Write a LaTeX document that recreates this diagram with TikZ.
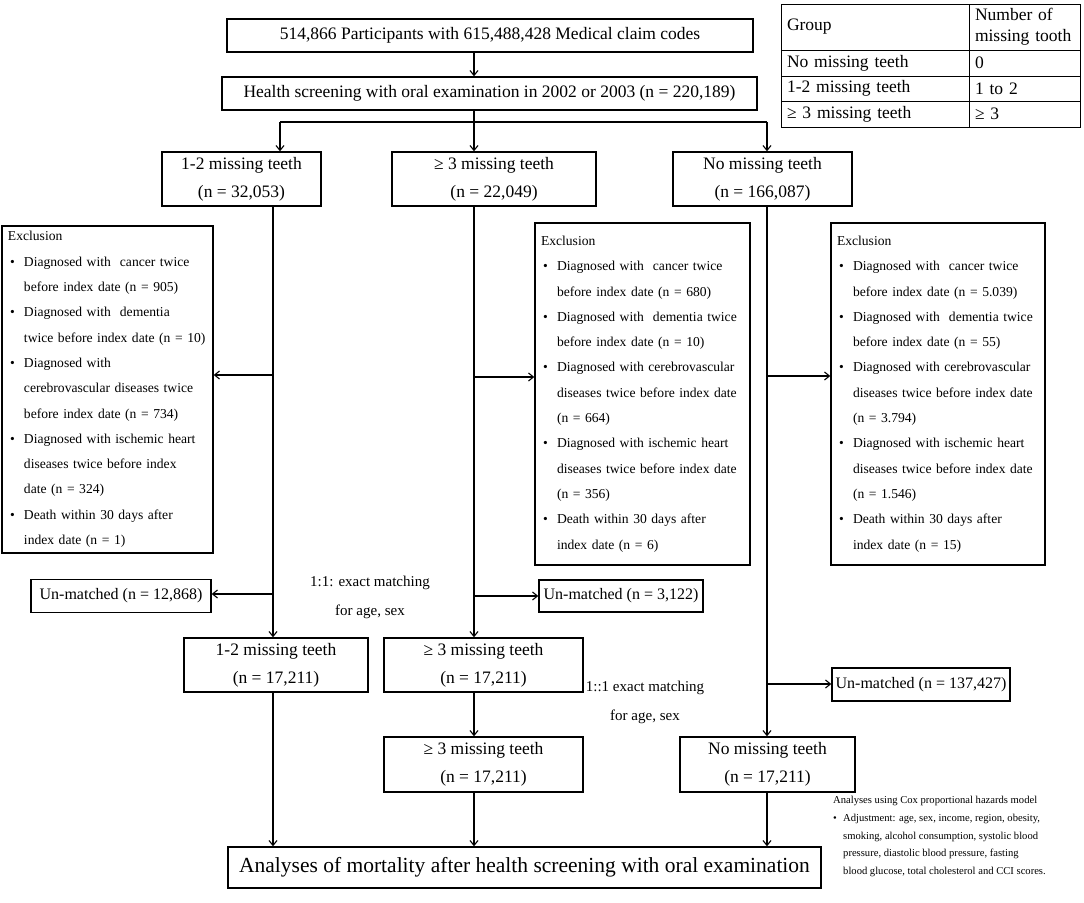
\documentclass[tikz,border=0pt]{standalone}
\usepackage{fontspec}
\setmainfont{Liberation Serif}
\usetikzlibrary{arrows.meta}
\newcommand\fsz[2]{\fontsize{#1}{#2}\selectfont}
\newcommand\bl[1]{\mbox{\makebox[16pt][l]{\hspace{2pt}\textbullet}#1}}
\newcommand\il[1]{\mbox{\hspace*{16pt}#1}}
\newcommand\nbul{\makebox[10pt][l]{\textbullet}}
\newcommand\nind{\hspace*{10pt}}
\begin{document}
\begin{tikzpicture}[x=1pt,y=-1pt,
  box/.style={draw, line width=1.3pt, inner sep=0pt, align=center, font=\fsz{17.5}{28}},
  exbox/.style={draw, line width=1.3pt, inner xsep=6pt, inner ysep=0pt, align=left, font=\fsz{13.6}{25.3}},
  cell/.style={draw, line width=0.9pt, inner xsep=6pt, inner ysep=0pt, align=left, font=\fsz{17.5}{21}},
  lbl/.style={inner sep=0pt, align=center, font=\fsz{15}{29}},
  conn/.style={line width=1.1pt},
  arr/.style={line width=1.1pt, -{Straight Barb[length=5pt,width=8pt]}}]
\useasboundingbox (0,0) rectangle (1084,902);
\fill[white] (0,0) rectangle (1084,902);

% top boxes
\node[box, minimum width=526pt, minimum height=33pt] (top) at (490,35.5) {514,866 Participants with 615,488,428 Medical claim codes};
\node[box, minimum width=535pt, minimum height=33pt] (scr) at (489.5,93.5) {Health screening with oral examination in 2002 or 2003 (n = 220,189)};

% table
\node[cell, minimum width=188pt, text width=176pt, minimum height=46pt] (t11) at (875,27) {Group\\[\baselineskip]};
\node[cell, minimum width=111pt, text width=99pt, minimum height=46pt] (t12) at (1024.5,27) {Number of\\missing tooth};
\node[cell, minimum width=188pt, text width=176pt, minimum height=26pt] (t21) at (875,63) {No missing teeth};
\node[cell, minimum width=111pt, text width=99pt, minimum height=26pt] (t22) at (1024.5,63) {0};
\node[cell, minimum width=188pt, text width=176pt, minimum height=25pt] (t31) at (875,88.5) {1-2 missing teeth};
\node[cell, minimum width=111pt, text width=99pt, minimum height=25pt] (t32) at (1024.5,88.5) {1 to 2};
\node[cell, minimum width=188pt, text width=176pt, minimum height=26pt] (t41) at (875,114) {≥ 3 missing teeth};
\node[cell, minimum width=111pt, text width=99pt, minimum height=26pt] (t42) at (1024.5,114) {≥ 3};

% group boxes
\node[box, minimum width=159pt, minimum height=54pt] (g1) at (241.5,179) {1-2 missing teeth\\(n = 32,053)};
\node[box, minimum width=204pt, minimum height=54pt] (g2) at (494,179) {≥ 3 missing teeth\\(n = 22,049)};
\node[box, minimum width=179pt, minimum height=54pt] (g3) at (762.5,179) {No missing teeth\\(n = 166,087)};

% exclusion boxes
\node[exbox, minimum width=211pt, text width=199pt, minimum height=327pt] (ex1) at (107.5,389.5) {Exclusion\\
\bl{Diagnosed with\ \ cancer twice}\\
\il{before index date (n = 905)}\\
\bl{Diagnosed with\ \ dementia}\\
\il{twice before index date (n = 10)}\\
\bl{Diagnosed with}\\
\il{cerebrovascular diseases twice}\\
\il{before index date (n = 734)}\\
\bl{Diagnosed with ischemic heart}\\
\il{diseases twice before index}\\
\il{date (n = 324)}\\
\bl{Death within 30 days after}\\
\il{index date (n = 1)}};

\node[exbox, minimum width=215pt, text width=203pt, minimum height=342pt] (ex2) at (642.5,394) {Exclusion\\
\bl{Diagnosed with\ \ cancer twice}\\
\il{before index date (n = 680)}\\
\bl{Diagnosed with\ \ dementia twice}\\
\il{before index date (n = 10)}\\
\bl{Diagnosed with cerebrovascular}\\
\il{diseases twice before index date}\\
\il{(n = 664)}\\
\bl{Diagnosed with ischemic heart}\\
\il{diseases twice before index date}\\
\il{(n = 356)}\\
\bl{Death within 30 days after}\\
\il{index date (n = 6)}};

\node[exbox, minimum width=214pt, text width=202pt, minimum height=342pt] (ex3) at (938,394) {Exclusion\\
\bl{Diagnosed with\ \ cancer twice}\\
\il{before index date (n = 5.039)}\\
\bl{Diagnosed with\ \ dementia twice}\\
\il{before index date (n = 55)}\\
\bl{Diagnosed with cerebrovascular}\\
\il{diseases twice before index date}\\
\il{(n = 3.794)}\\
\bl{Diagnosed with ischemic heart}\\
\il{diseases twice before index date}\\
\il{(n = 1.546)}\\
\bl{Death within 30 days after}\\
\il{index date (n = 15)}};

% unmatched
\node[box, font=\fsz{16}{20}, minimum width=180pt, minimum height=33pt] (un1) at (121,596) {Un-matched (n = 12,868)};
\node[box, font=\fsz{16}{20}, minimum width=164pt, minimum height=32pt] (un2) at (621,596) {Un-matched (n = 3,122)};
\node[box, font=\fsz{16}{20}, minimum width=178pt, minimum height=33pt] (un3) at (921,684.5) {Un-matched (n = 137,427)};

% matching labels
\node[lbl] (m1) at (370,597) {1:1: exact matching\\for age, sex};
\node[lbl] (m2) at (645,702) {1::1 exact matching\\for age, sex};

% second / third rows
\node[box, minimum width=184pt, minimum height=54pt] (g1b) at (276,665) {1-2 missing teeth\\(n = 17,211)};
\node[box, minimum width=199pt, minimum height=54pt] (g2b) at (483.5,665) {≥ 3 missing teeth\\(n = 17,211)};
\node[box, minimum width=199pt, minimum height=55pt] (g2c) at (483.5,764.5) {≥ 3 missing teeth\\(n = 17,211)};
\node[box, minimum width=175pt, minimum height=55pt] (g3c) at (767.5,764.5) {No missing teeth\\(n = 17,211)};

% final
\node[box, font=\fsz{21.5}{25}, minimum width=593pt, minimum height=41pt] (fin) at (524.5,867.5) {Analyses of mortality after health screening with oral examination};

% note
\node[inner sep=0pt, align=left, anchor=north west, font=\fsz{10.6}{17.8}] (note) at (833,796) {Analyses using Cox proportional hazards model\\
\nbul Adjustment: age, sex, income, region, obesity,\\
\nind smoking, alcohol consumption, systolic blood\\
\nind pressure, diastolic blood pressure, fasting\\
\nind blood glucose, total cholesterol and CCI scores.};

% coordinates
\coordinate (cL) at (273,0);
\coordinate (cM) at (474,0);
\coordinate (cR) at (767,0);
\coordinate (bL) at (280,122);
\coordinate (bR) at (767,122);
\coordinate (tL1) at (273,375);
\coordinate (tL2) at (273,594);
\coordinate (tM1) at (474,377);
\coordinate (tM2) at (474,596);
\coordinate (tR1) at (767,376);
\coordinate (tR2) at (767,684);

% connectors
\draw[arr] (top.south -| cM) -- (scr.north -| cM);
\draw[arr] (scr.south -| cM) -- (g2.north -| cM);
\draw[conn] (bL) -- (bR);
\draw[arr] (bL) -- (bL |- g1.north);
\draw[arr] (bR) -- (bR |- g3.north);

\draw[arr] (g1.south -| cL) -- (g1b.north -| cL);
\draw[arr] (tL1) -- (tL1 -| ex1.east);
\draw[arr] (tL2) -- (tL2 -| un1.east);
\draw[arr] (g1b.south -| cL) -- (fin.north -| cL);

\draw[arr] (g2.south -| cM) -- (g2b.north -| cM);
\draw[arr] (tM1) -- (tM1 -| ex2.west);
\draw[arr] (tM2) -- (tM2 -| un2.west);
\draw[arr] (g2b.south -| cM) -- (g2c.north -| cM);
\draw[arr] (g2c.south -| cM) -- (fin.north -| cM);

\draw[arr] (g3.south -| cR) -- (g3c.north -| cR);
\draw[arr] (tR1) -- (tR1 -| ex3.west);
\draw[arr] (tR2) -- (tR2 -| un3.west);
\draw[arr] (g3c.south -| cR) -- (fin.north -| cR);
\end{tikzpicture}
\end{document}
